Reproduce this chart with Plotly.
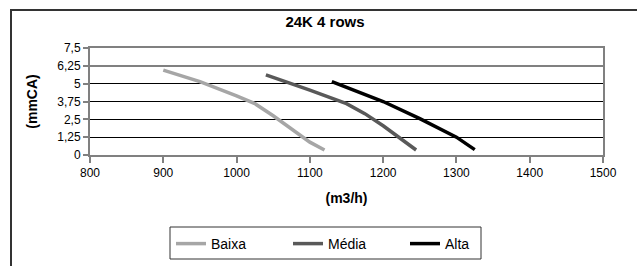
import plotly.graph_objects as go

title_text = "24K 4 rows"
x_title = "(m3/h)"
y_title = "(mmCA)"

baixa_x = [900, 950, 1000, 1025, 1050, 1075, 1100, 1120]
baixa_y = [5.95, 5.15, 4.15, 3.6, 2.75, 1.85, 0.9, 0.35]

media_x = [1040, 1075, 1100, 1150, 1175, 1200, 1225, 1245]
media_y = [5.62, 5.0, 4.55, 3.6, 2.9, 2.05, 1.08, 0.35]

alta_x = [1130, 1150, 1200, 1250, 1275, 1300, 1325]
alta_y = [5.15, 4.75, 3.75, 2.55, 1.92, 1.25, 0.38]

series_names = ["Baixa", "Média", "Alta"]
series_colors = ["#a6a6a6", "#595959", "#000000"]

x_ticks = [800, 900, 1000, 1100, 1200, 1300, 1400, 1500]
y_ticks = [0, 1.25, 2.5, 3.75, 5, 6.25, 7.5]
y_tick_labels = ["0", "1,25", "2,5", "3,75", "5", "6,25", "7,5"]
y_gray_grid = [6.25, 7.5]

FONT = "Liberation Sans, Arial, sans-serif"

W, H = 637, 266
ML, MR, MT, MB = 90, 34, 48, 111
PW, PH = W - ML - MR, H - MT - MB


def px_x(p):
    return (p - ML) / PW


def px_y(p):
    return (H - MB - p) / PH


fig = go.Figure()
for xs, ys, name, col in zip([baixa_x, media_x, alta_x], [baixa_y, media_y, alta_y],
                             series_names, series_colors):
    fig.add_trace(go.Scatter(x=xs, y=ys, mode="lines", name=name,
                             line=dict(color=col, width=3.5)))

fig.update_layout(
    width=W, height=H,
    margin=dict(l=ML, r=MR, t=MT, b=MB, autoexpand=False),
    paper_bgcolor="white", plot_bgcolor="white",
    font=dict(family=FONT, size=12, color="#000"),
    showlegend=True,
    title=dict(text="<b>" + title_text + "</b>", x=325 / W, xanchor="center",
               y=1 - 22 / H, yanchor="middle", font=dict(size=15, family=FONT)),
    legend=dict(orientation="h", xref="container", yref="container",
                x=171 / W, xanchor="left", y=1 - 228 / H, yanchor="top",
                borderwidth=0, bgcolor="rgba(0,0,0,0)",
                font=dict(size=14, family=FONT),
                entrywidth=72, entrywidthmode="pixels",
                itemwidth=30, tracegroupgap=0),
    xaxis=dict(range=[800, 1500], tickvals=x_ticks, showgrid=False,
               showline=True, linecolor="#808080", linewidth=2, mirror=True,
               ticks="outside", ticklen=6, tickcolor="#808080", tickwidth=1.5,
               tickfont=dict(size=12), zeroline=False, automargin=False,
               title=dict(text="<b>" + x_title + "</b>", standoff=14,
                          font=dict(size=14))),
    yaxis=dict(range=[0, 7.5], tickvals=y_ticks, ticktext=y_tick_labels,
               showgrid=True, gridcolor="#000", gridwidth=1.2,
               showline=True, linecolor="#808080", linewidth=2, mirror=True,
               ticks="outside", ticklen=5, tickcolor="#808080", tickwidth=1.5,
               tickfont=dict(size=12), zeroline=False, automargin=False,
               title=dict(text="<b>" + y_title + "</b>", standoff=16,
                          font=dict(size=14))),
    yaxis2=dict(range=[0, 7.5], overlaying="y", tickvals=y_gray_grid,
                showticklabels=False, showgrid=True, gridcolor="#808080",
                gridwidth=2, zeroline=False, showline=False, ticks=""),
)

# invisible trace to activate yaxis2
fig.add_trace(go.Scatter(x=[x_ticks[0]], y=[y_ticks[0]], yaxis="y2", mode="lines",
                         showlegend=False, hoverinfo="skip",
                         line=dict(color="rgba(0,0,0,0)")))

# outer chart frame (extends beyond window on right/bottom)
fig.add_shape(type="rect", xref="paper", yref="paper",
              x0=px_x(11), x1=1.3, y0=-1.5, y1=px_y(10),
              line=dict(color="#333", width=2), fillcolor="rgba(0,0,0,0)", layer="below")

# legend border box
fig.add_shape(type="rect", xref="paper", yref="paper",
              x0=px_x(170), x1=px_x(481), y0=px_y(259), y1=px_y(227),
              line=dict(color="#333", width=1), fillcolor="rgba(0,0,0,0)", layer="below")

fig.write_html("out.html", config={"displayModeBar": False},
               post_script="document.body.style.margin='0';document.body.style.overflow='hidden';")
